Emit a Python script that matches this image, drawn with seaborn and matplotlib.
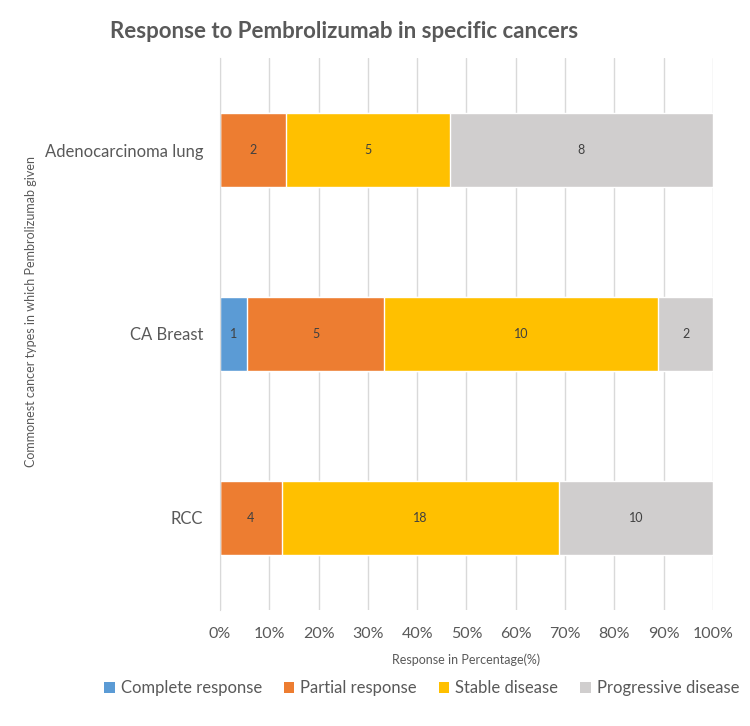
import numpy as np
import pandas as pd
import matplotlib
matplotlib.use("Agg")
import matplotlib.pyplot as plt
from matplotlib.patches import Patch
import seaborn as sns

# counts of patients by response, per cancer type
cancers = ["Adenocarcinoma lung", "CA Breast", "RCC"]
responses = ["Complete response", "Partial response", "Stable disease", "Progressive disease"]
complete = [0, 1, 0]
partial = [2, 5, 4]
stable = [5, 10, 18]
progressive = [8, 2, 10]
colors = ["#5B9BD5", "#ED7D31", "#FFC000", "#D0CECE"]

df = pd.DataFrame({"Complete response": complete, "Partial response": partial,
                   "Stable disease": stable, "Progressive disease": progressive},
                  index=cancers)
pct = df.div(df.sum(axis=1), axis=0) * 100
cum = pct.cumsum(axis=1)

sns.set_style("white")
plt.rcParams["font.family"] = ["Lato", "DejaVu Sans"]
txt = "#595959"

fig = plt.figure(figsize=(7.5, 7.26), dpi=100)
ax = fig.add_axes([0.2933, 0.1598, 0.6573, 0.7603])

# stacked: draw cumulative totals from the last series backwards
for resp, col in reversed(list(zip(responses, colors))):
    sns.barplot(x=cum[resp].values, y=cancers, orient="h", color=col,
                width=0.4, saturation=1, ax=ax, zorder=3)

# value labels at segment centres
for i, cancer in enumerate(cancers):
    for resp in responses:
        n = df.loc[cancer, resp]
        if n == 0:
            continue
        mid = cum.loc[cancer, resp] - pct.loc[cancer, resp] / 2
        ax.text(mid, i, str(n), ha="center", va="center", fontsize=9,
                color="#404040", zorder=4)

ax.set_xlim(0, 100)
ax.set_ylim(2.5, -0.5)
ax.set_xticks(np.arange(0, 101, 10))
ax.set_xticklabels([f"{v}%" for v in range(0, 101, 10)], fontsize=11.5, color=txt)
ax.tick_params(axis="y", labelsize=12, labelcolor=txt, length=0, pad=12)
ax.tick_params(axis="x", length=0, pad=12)
ax.grid(axis="x", color="#D9D9D9", linewidth=1, zorder=0)
ax.set_axisbelow(True)
for s in ["top", "right", "bottom"]:
    ax.spines[s].set_visible(False)
ax.spines["left"].set_color("#D9D9D9")
ax.spines["left"].set_zorder(5)

ax.set_xlabel("Response in Percentage(%)", fontsize=9, color=txt, labelpad=9)
ax.set_ylabel("Commonest cancer types in which Pembrolizumab given", fontsize=9,
              color=txt)
ax.yaxis.set_label_coords(-0.372, 0.54)

fig.text(0.147, 0.957, "Response to Pembrolizumab in specific cancers",
         fontsize=16, fontweight="bold", color=txt, ha="left", va="center")

leg_handles = [Patch(facecolor=c, edgecolor="none") for c in colors]
fig.legend(leg_handles, responses, loc="center", bbox_to_anchor=(0.562, 0.052),
           ncol=4, frameon=False, fontsize=12, handlelength=0.65, handleheight=0.65,
           handletextpad=0.35, columnspacing=1.3, labelcolor=txt)

fig.savefig("out.png", dpi=100)
